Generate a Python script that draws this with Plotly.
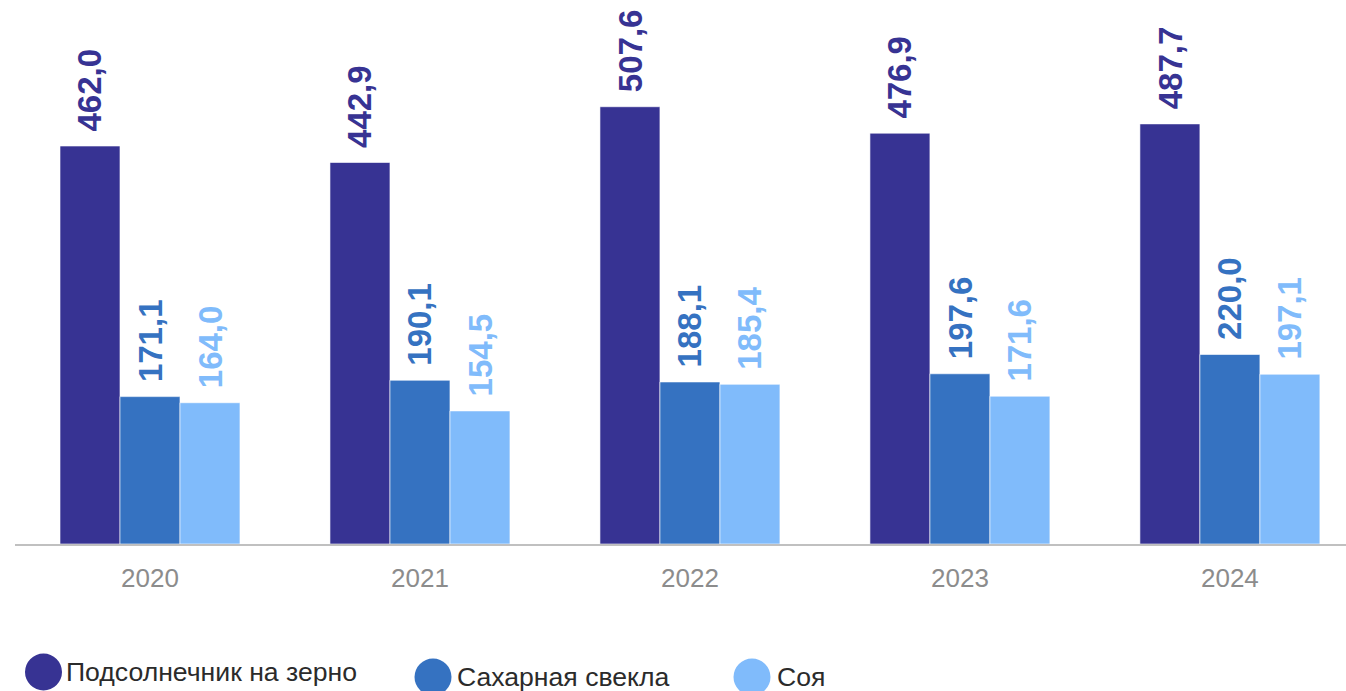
import plotly.graph_objects as go

years = ["2020", "2021", "2022", "2023", "2024"]
series_names = ["Подсолнечник на зерно", "Сахарная свекла", "Соя"]
sunflower = [462.0, 442.9, 507.6, 476.9, 487.7]
sugar_beet = [171.1, 190.1, 188.1, 197.6, 220.0]
soy = [164.0, 154.5, 185.4, 171.6, 197.1]

colors = ["#373393", "#3572c1", "#80bbfb"]
all_values = [sunflower, sugar_beet, soy]

W, H = 1346, 691
ML, MR, MT, MB = 15, 0, 0, 147
FONT = "Arial, Liberation Sans, sans-serif"

fig = go.Figure()
for name, vals, col in zip(series_names, all_values, colors):
    fig.add_trace(go.Bar(
        x=years, y=vals, name=name,
        marker=dict(color=col, line=dict(color="rgba(255,255,255,0.6)", width=1)),
        showlegend=False, hoverinfo="skip",
    ))

def fmt(v):
    return f"{v:.1f}".replace(".", ",")

annotations = []
offsets = [-60, 0, 60]
for vals, col, dx in zip(all_values, colors, offsets):
    for i, v in enumerate(vals):
        annotations.append(dict(
            x=i, y=v, xref="x", yref="y", text=fmt(v), showarrow=False,
            textangle=-90, xanchor="center", yanchor="bottom",
            xshift=dx, yshift=13,
            font=dict(family=FONT, size=33, color=col, weight="bold"),
        ))

# custom legend with large circles
plot_w = W - ML - MR
plot_h = H - MT - MB
def px_to_paper_x(px):
    return (px - ML) / plot_w
def px_to_paper_y(py):
    return (H - MB - py) / plot_h

legend_items = [(43.5, 672, 64), (433, 677, 455), (752, 677, 775)]
shapes = []
for (cx, cy, tx), name, col in zip(legend_items, series_names, colors):
    shapes.append(dict(
        type="circle", xref="paper", yref="paper",
        xsizemode="pixel", ysizemode="pixel",
        xanchor=px_to_paper_x(cx), yanchor=px_to_paper_y(cy),
        x0=-18.5, x1=18.5, y0=-18.5, y1=18.5,
        fillcolor=col, line=dict(width=0),
    ))
    annotations.append(dict(
        x=px_to_paper_x(tx), y=px_to_paper_y(cy), xref="paper", yref="paper",
        text=name, showarrow=False, xanchor="left", yanchor="middle",
        font=dict(family=FONT, size=26.6, color="#2b2b2b"),
    ))

fig.update_layout(
    width=W, height=H,
    margin=dict(l=ML, r=MR, t=MT, b=MB, pad=0),
    paper_bgcolor="white", plot_bgcolor="white",
    barmode="group", bargap=1/3, bargroupgap=0,
    showlegend=False,
    annotations=annotations, shapes=shapes,
    font=dict(family=FONT),
    xaxis=dict(
        type="category", range=[-0.5, 4.43],
        showline=True, linecolor="#c0c0c0", linewidth=2,
        ticks="", showgrid=False, zeroline=False,
        tickfont=dict(family=FONT, size=26, color="#8c8c8c"),
        ticklabelstandoff=10,
    ),
    yaxis=dict(
        range=[0, 631.5], visible=False, showgrid=False, zeroline=False,
    ),
)

fig.write_html(
    "out.html",
    config={"displayModeBar": False},
    post_script="document.body.style.margin='0';document.body.style.overflow='hidden';",
)
